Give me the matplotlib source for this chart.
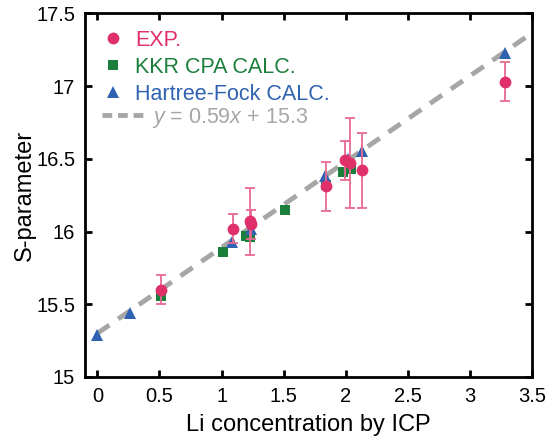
import numpy as np
import matplotlib
matplotlib.use("Agg")
import matplotlib.pyplot as plt

plt.rcParams['font.family'] = ['Liberation Sans', 'DejaVu Sans']
plt.rcParams['mathtext.fontset'] = 'custom'
plt.rcParams['mathtext.it'] = 'Liberation Sans:italic'
plt.rcParams['mathtext.rm'] = 'Liberation Sans'

# experimental points with error bars
exp_x = [0.51, 1.09, 1.23, 1.24, 1.84, 1.99, 2.03, 2.13, 3.28]
exp_y = [15.60, 16.02, 16.07, 16.05, 16.31, 16.49, 16.47, 16.42, 17.03]
exp_err = [0.10, 0.10, 0.23, 0.10, 0.17, 0.135, 0.31, 0.26, 0.135]

# KKR CPA calculation
kkr_x = [0.51, 1.01, 1.20, 1.23, 1.51, 1.84, 1.98, 2.04]
kkr_y = [15.56, 15.86, 15.97, 15.96, 16.15, 16.32, 16.41, 16.43]

# Hartree-Fock calculation
hf_x = [0.0, 0.26, 1.08, 1.24, 1.83, 2.02, 2.13, 3.28]
hf_y = [15.29, 15.44, 15.93, 16.02, 16.38, 16.50, 16.55, 17.23]

# linear fit
slope = 0.59
intercept = 15.3
fit_x = np.array([0.0, 3.46])

c_exp = '#E0306A'
c_err = '#E86A92'
c_kkr = '#1B7F3B'
c_hf = '#2F62B0'
c_fit = '#A6A6A6'

fig = plt.figure(figsize=(5.48, 4.43), dpi=100)
ax = fig.add_axes([0.155, 0.149, 0.816, 0.821])

fit_line, = ax.plot(fit_x, slope * fit_x + intercept, '--', color=c_fit, lw=3.5,
                    dashes=(3, 2.2), label=r'$y$ = 0.59$x$ + 15.3', zorder=1)
sq, = ax.plot(kkr_x, kkr_y, 's', color=c_kkr, ms=7.5, mew=0, label='KKR CPA CALC.', zorder=2)
tri, = ax.plot(hf_x, hf_y, '^', color=c_hf, ms=9, mew=0, label='Hartree-Fock CALC.', zorder=3)
ax.errorbar(exp_x, exp_y, yerr=exp_err, fmt='none', ecolor=c_err, elinewidth=1.3,
            capsize=3.5, capthick=1.3, zorder=4)
circ, = ax.plot(exp_x, exp_y, 'o', color=c_exp, ms=8.5, mew=0, label='EXP.', zorder=5)

ax.set_xlim(-0.1, 3.5)
ax.set_ylim(15, 17.5)
ax.set_xticks(np.arange(0, 3.51, 0.5))
ax.set_yticks(np.arange(15, 17.51, 0.5))
ax.set_xticklabels(['0', '0.5', '1', '1.5', '2', '2.5', '3', '3.5'])
ax.set_yticklabels(['15', '15.5', '16', '16.5', '17', '17.5'])
ax.tick_params(direction='in', top=True, right=True, length=5, width=2,
               labelsize=14.5, pad=7)
for s in ax.spines.values():
    s.set_linewidth(2)

ax.set_xlabel('Li concentration by ICP', fontsize=17, labelpad=6)
ax.set_ylabel('S-parameter', fontsize=17, labelpad=0)

# legend: markers first, fit line in its own legend (text sits further right)
leg1 = ax.legend([circ, sq, tri], ['EXP.', 'KKR CPA CALC.', 'Hartree-Fock CALC.'],
                 loc='upper left', bbox_to_anchor=(0.0386, 0.955), borderaxespad=0,
                 borderpad=0, frameon=False, fontsize=15.5, handlelength=1.0,
                 handletextpad=0.52, labelspacing=0.28)
for txt, c in zip(leg1.get_texts(), [c_exp, c_kkr, c_hf]):
    txt.set_color(c)
ax.add_artist(leg1)

leg2 = ax.legend([fit_line], [fit_line.get_label()], loc='upper left',
                 bbox_to_anchor=(0.038, 0.745), borderaxespad=0, borderpad=0,
                 frameon=False, fontsize=15.5, handlelength=1.9, handletextpad=0.42)
leg2.legend_handles[0].set_dashes((2, 1.2))
leg2.get_texts()[0].set_color(c_fit)

fig.savefig('out.png', dpi=100)
